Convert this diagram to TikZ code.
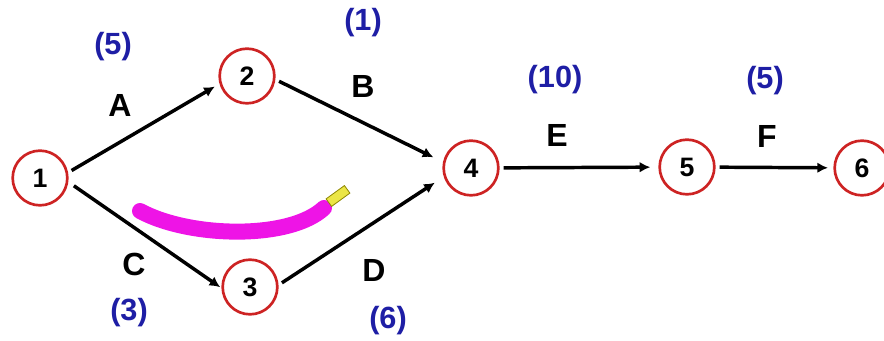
\documentclass[tikz,border=0pt]{standalone}
\usepackage{fontspec}
\setmainfont{Liberation Sans}
\usetikzlibrary{arrows.meta}
\definecolor{evred}{RGB}{205,35,35}
\definecolor{durblue}{RGB}{30,30,165}
\definecolor{marker}{RGB}{238,20,230}
\definecolor{pentip}{RGB}{235,230,70}
\tikzset{
  event/.style={circle, draw=evred, line width=2pt, minimum size=41pt, inner sep=0pt,
                font=\fontsize{20}{22}\selectfont\bfseries},
  act/.style={line width=2.6pt, -{Latex[length=8pt,width=8pt]}, shorten <=3pt, shorten >=4pt},
  actname/.style={font=\fontsize{24}{26}\selectfont\bfseries},
  dur/.style={text=durblue, font=\fontsize{23}{26}\selectfont\bfseries}
}
\begin{document}
\begin{tikzpicture}[x=0.75pt, y=-0.75pt]
    \useasboundingbox (0, 0) rectangle (884, 341);
    % events
    \node [event] (n1) at (40, 178)  {1};
    \node [event] (n2) at (247, 76)  {2};
    \node [event] (n3) at (250, 287) {3};
    \node [event] (n4) at (471, 168) {4};
    \node [event] (n5) at (687, 167) {5};
    \node [event] (n6) at (862, 168) {6};
    % A
    \draw [act]                     (n1.11)  -- (n2.196);
    \node [actname] (lA) at (120, 105) {A};
    \node [dur]     (dA) at (113, 47)  {(5)};
    % B
    \draw [act, shorten >=8pt]      (n2.353) -- (n4.168);
    \node [actname] (lB) at (363, 86)  {B};
    \node [dur]     (dB) at (363, 23)  {(1)};
    % C
    \draw [act, shorten <=5pt, shorten >=1pt] (n1.352) -- (n3.182);
    \node [actname] (lC) at (134, 264) {C};
    \node [dur]     (dC) at (129, 313) {(3)};
    % D
    \draw [act, shorten >=8pt]      (n3.4)   -- (n4.198);
    \node [actname] (lD) at (374, 270) {D};
    \node [dur]     (dD) at (388, 321) {(6)};
    % E
    \draw [act, shorten >=6pt]      (n4)     -- (n5);
    \node [actname] (lE) at (557, 135) {E};
    \node [dur]     (dE) at (555, 80)  {(10)};
    % F
    \draw [act]                     (n5)     -- (n6);
    \node [actname] (lF) at (767, 136) {F};
    \node [dur]     (dF) at (765, 81)  {(5)};
    % marker stroke
    \draw [marker, line width=12pt, line cap=round]
          (140, 211) .. controls (190, 238) and (290, 240) .. (324, 208);
    \node [rectangle, rotate=36, fill=pentip, draw=olive, line width=0.6pt,
           minimum width=17pt, minimum height=7pt, inner sep=0pt] (pen) at (338, 196) {};
\end{tikzpicture}
\end{document}
